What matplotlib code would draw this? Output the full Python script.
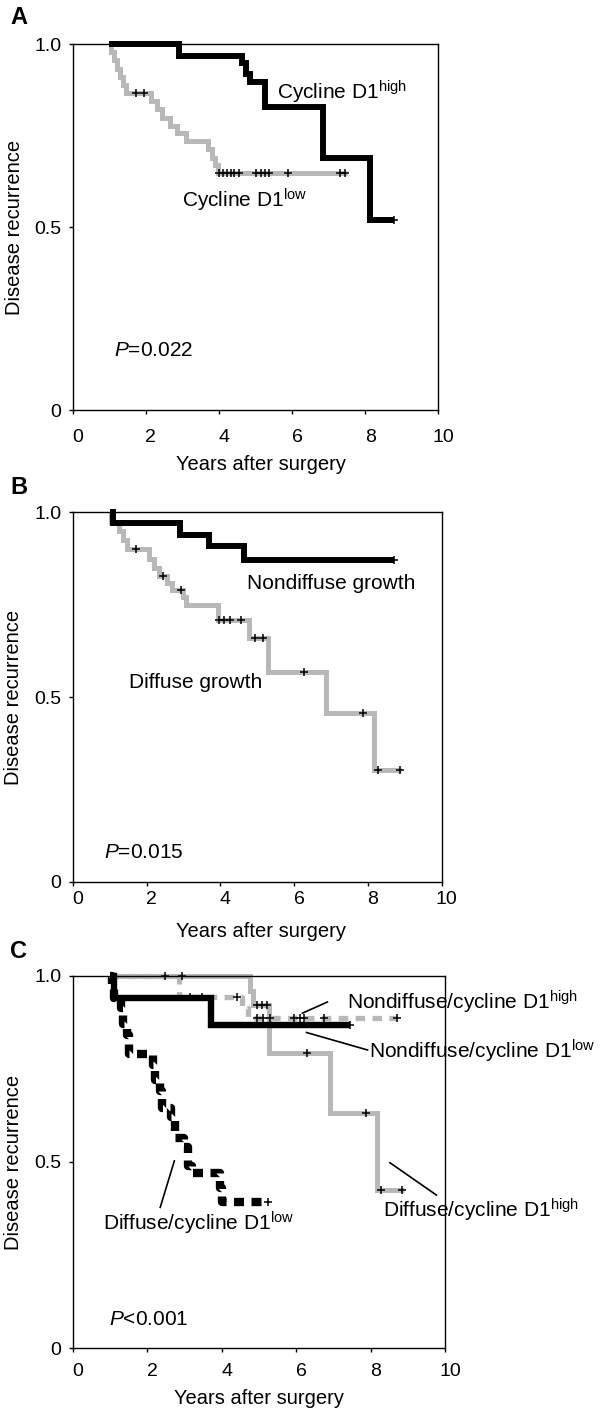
import numpy as np
import matplotlib
matplotlib.use('Agg')
import matplotlib.pyplot as plt
from matplotlib.transforms import ScaledTranslation

plt.rcParams['font.family'] = ['Liberation Sans', 'DejaVu Sans']
plt.rcParams['mathtext.fontset'] = 'custom'
plt.rcParams['mathtext.rm'] = 'Liberation Sans'
plt.rcParams['mathtext.it'] = 'Liberation Sans:italic'

GRAY = '#b8b8b8'

# ---- panel A: cycline D1 ----
a_high_t = [1.0, 2.92, 4.62, 4.75, 4.84, 5.25, 6.85, 8.12, 8.8]
a_high_s = [1.0, 0.967, 0.948, 0.92, 0.897, 0.828, 0.69, 0.52, 0.52]
a_high_c = [8.8]

a_low_t = [1.0, 1.06, 1.14, 1.22, 1.3, 1.38, 1.47, 2.15, 2.3, 2.45, 2.65, 2.85,
           3.1, 3.7, 3.82, 3.9, 3.97, 7.5]
a_low_s = [1.0, 0.978, 0.956, 0.933, 0.911, 0.889, 0.866, 0.845, 0.822, 0.80,
           0.778, 0.757, 0.735, 0.713, 0.69, 0.67, 0.648, 0.648]
a_low_c = [1.73, 1.96, 3.99, 4.1, 4.22, 4.32, 4.42, 4.55, 5.0, 5.15, 5.25, 5.38,
           5.9, 7.3, 7.45]

# ---- panel B: growth pattern ----
b_non_t = [1.0, 1.1, 2.9, 3.7, 4.65, 8.7]
b_non_s = [1.0, 0.972, 0.94, 0.91, 0.872, 0.872]
b_non_c = [8.7]

b_dif_t = [1.0, 1.05, 1.25, 1.35, 1.47, 2.08, 2.2, 2.33, 2.55, 2.7, 3.0, 3.08,
           3.93, 4.79, 5.28, 6.87, 8.16, 8.9]
b_dif_s = [1.0, 0.975, 0.95, 0.925, 0.90, 0.875, 0.85, 0.827, 0.808, 0.789, 0.77,
           0.749, 0.708, 0.659, 0.568, 0.456, 0.303, 0.303]
b_dif_c = [1.72, 2.44, 2.94, 3.97, 4.11, 4.25, 4.56, 4.95, 5.15, 6.27, 7.86,
           8.28, 8.87]

# ---- panel C: combined ----
c_ndh_t = [1.0, 2.85, 4.55, 4.7, 8.7]
c_ndh_s = [1.0, 0.944, 0.915, 0.888, 0.888]
c_ndh_c = [3.15, 3.47, 4.4, 4.95, 5.1, 5.3, 5.95, 6.1, 6.2, 6.75, 8.7]

c_ndl_t = [1.0, 1.1, 3.72, 7.45]
c_ndl_s = [1.0, 0.94, 0.868, 0.868]
c_ndl_c = [7.45]

c_dh_t = [1.05, 4.77, 4.85, 5.26, 6.92, 8.18, 8.9]
c_dh_s = [1.0, 0.96, 0.922, 0.792, 0.631, 0.425, 0.425]
c_dh_c = [2.47, 2.93, 4.95, 5.08, 5.21, 6.29, 7.87, 8.28, 8.85]

c_dl_t = [1.0, 1.05, 1.12, 1.3, 1.35, 1.45, 1.5, 2.15, 2.2, 2.35, 2.4, 2.65, 2.75,
          3.0, 3.1, 3.2, 3.95, 4.02, 5.25]
c_dl_s = [1.0, 0.97, 0.94, 0.915, 0.87, 0.84, 0.79, 0.76, 0.72, 0.69, 0.645,
          0.62, 0.565, 0.54, 0.49, 0.47, 0.43, 0.393, 0.393]
c_dl_c = [5.25]


def km(ax, t, s, cens, color, lw, dashes=None):
    kw = dict(where='post', color=color, lw=lw, clip_on=False,
              solid_joinstyle='miter', solid_capstyle='butt')
    if dashes:
        kw.update(linestyle=(0, dashes), dash_capstyle='butt')
    ax.step(t, s, **kw)
    idx = np.searchsorted(t, cens, side='right') - 1
    ys = np.array(s)[idx]
    ax.plot(cens, ys, '+', color='k', ms=6, mew=1.1, clip_on=False, zorder=5)


def frame(ax, tpad):
    ax.set_xlim(0, 10)
    ax.set_ylim(0, 1)
    ax.set_xticks([0, 2, 4, 6, 8, 10])
    ax.set_yticks([0, 0.5, 1.0])
    ax.set_yticklabels(['0', '0.5', '1.0'])
    ax.tick_params(direction='out', length=3, width=1, labelsize=14)
    ax.tick_params(axis='x', pad=tpad)
    ax.tick_params(axis='y', pad=5)
    for lab in ax.get_xticklabels():
        lab.set_transform(lab.get_transform() +
                          ScaledTranslation(5 / 100, 0, fig.dpi_scale_trans))
    for sp in ax.spines.values():
        sp.set_linewidth(1.0)
    ax.set_ylabel('Disease recurrence', fontsize=14.5, va='center')
    ax.yaxis.set_label_coords(-0.160, 0.5)
    ax.set_xlabel('Years after surgery', fontsize=14.5, va='center')


fig = plt.figure(figsize=(6, 14.13), dpi=100)
ax1 = fig.add_axes([0.1212, 0.7098, 0.6093, 0.2588])
ax2 = fig.add_axes([0.1212, 0.3760, 0.6150, 0.2614])
ax3 = fig.add_axes([0.1212, 0.0460, 0.6205, 0.2633])

# A
frame(ax1, 11)
ax1.xaxis.set_label_coords(0.515, -0.148)
km(ax1, a_low_t, a_low_s, a_low_c, GRAY, 3.6)
km(ax1, a_high_t, a_high_s, a_high_c, 'k', 4.3)
ax1.text(5.58, 0.85, 'Cycline D1$^{\\mathrm{high}}$', fontsize=15, va='baseline')
ax1.text(2.98, 0.554, 'Cycline D1$^{\\mathrm{low}}$', fontsize=15, va='baseline')
ax1.text(1.14, 0.148, '$P$=0.022', fontsize=15, va='baseline')

# B
frame(ax2, 4)
ax2.xaxis.set_label_coords(0.51, -0.136)
km(ax2, b_dif_t, b_dif_s, b_dif_c, GRAY, 3.6)
km(ax2, b_non_t, b_non_s, b_non_c, 'k', 4.3)
ax2.text(4.71, 0.792, 'Nondiffuse growth', fontsize=15, va='baseline')
ax2.text(1.53, 0.524, 'Diffuse growth', fontsize=15, va='baseline')
ax2.text(0.86, 0.065, '$P$=0.015', fontsize=15, va='baseline')

# C
frame(ax3, 8)
ax3.xaxis.set_label_coords(0.5, -0.136)
km(ax3, c_dh_t, c_dh_s, c_dh_c, GRAY, 3.6)
km(ax3, c_ndh_t, c_ndh_s, c_ndh_c, GRAY, 3.8, dashes=(1.8, 1.4))
km(ax3, c_ndl_t, c_ndl_s, c_ndl_c, 'k', 4.6)
km(ax3, c_dl_t, c_dl_s, c_dl_c, 'k', 6.0, dashes=(1.2, 0.9))
ax3.text(7.36, 0.91, 'Nondiffuse/cycline D1$^{\\mathrm{high}}$', fontsize=15,
         va='baseline', clip_on=False)
ax3.plot([6.17, 6.84], [0.90, 0.93], color='k', lw=1.2, clip_on=False)
ax3.text(7.97, 0.778, 'Nondiffuse/cycline D1$^{\\mathrm{low}}$', fontsize=15,
         va='baseline', clip_on=False)
ax3.plot([6.28, 7.92], [0.848, 0.801], color='k', lw=1.2, clip_on=False)
ax3.text(8.33, 0.351, 'Diffuse/cycline D1$^{\\mathrm{high}}$', fontsize=15,
         va='baseline', clip_on=False)
ax3.plot([8.52, 9.77], [0.498, 0.411], color='k', lw=1.2, clip_on=False)
ax3.text(0.82, 0.315, 'Diffuse/cycline D1$^{\\mathrm{low}}$', fontsize=15,
         va='baseline')
ax3.plot([2.35, 2.73], [0.378, 0.503], color='k', lw=1.2)
ax3.text(0.98, 0.062, '$P$<0.001', fontsize=15, va='baseline')

# panel letters
for letter, ypix in [('A', 18), ('B', 487), ('C', 952)]:
    fig.text(10 / 600, 1 - ypix / 1413, letter, fontsize=17, fontweight='bold',
             va='center', ha='left')

fig.savefig('out.png', dpi=100)
